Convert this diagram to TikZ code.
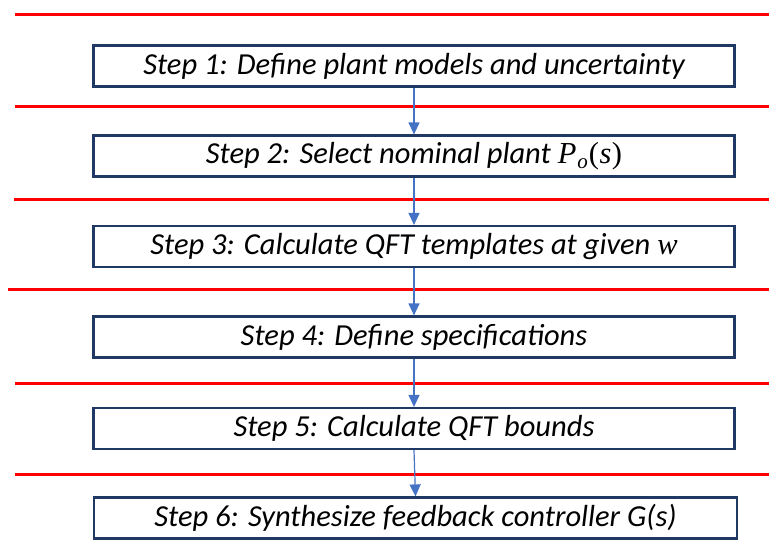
\documentclass[tikz,border=0pt]{standalone}
\usepackage{fontspec}
\setmainfont{Carlito}
\newfontfamily\mathlike{Liberation Serif}
\usetikzlibrary{arrows.meta}
\definecolor{boxnavy}{HTML}{1F3864}
\definecolor{flowblue}{HTML}{4472C4}
\definecolor{sepred}{HTML}{FF0000}
% math-style symbols set in a serif face
\newcommand{\plantPo}{{\mathlike\itshape P\kern1pt\raisebox{-0.35ex}{\fontsize{21}{21}\selectfont o}\upshape\kern1pt(\kern0.5pt\itshape s\upshape\kern0.5pt)}}
\newcommand{\freqw}{{\mathlike\itshape w}}
\tikzset{
  stepbox/.style={draw=boxnavy, line width=2.2pt, fill=white,
    minimum width=641pt, minimum height=41pt, inner sep=0pt,
    font=\fontsize{30.5}{33}\selectfont\itshape},
  flow/.style={draw=flowblue, line width=1.2pt,
    -{Triangle[width=11pt,length=12pt,fill=flowblue]}},
  sepline/.style={draw=sepred, line width=3pt}
}
\begin{document}
\begin{tikzpicture}[x=1pt,y=-1pt]
  \useasboundingbox (0,0) rectangle (769,554);
  % red separators
  \draw[sepline] (15,14) -- (769,14);
  \draw[sepline] (15,106) -- (769,106);
  \draw[sepline] (14,199) -- (769,199);
  \draw[sepline] (8,289) -- (769,289);
  \draw[sepline] (15,383) -- (769,383);
  \draw[sepline] (15,474) -- (769,474);
  % steps
  \node[stepbox] (s1) at (414,66) {Step 1: Define plant models and uncertainty};
  \node[stepbox] (s2) at (414,156) {Step 2: Select nominal plant \plantPo};
  \node[stepbox] (s3) at (414,246.5) {Step 3: Calculate QFT templates at given \freqw};
  \node[stepbox] (s4) at (414,337) {Step 4: Define specifications};
  \node[stepbox] (s5) at (414,428.5) {Step 5: Calculate QFT bounds};
  \node[stepbox, minimum width=643pt] (s6) at (415.5,518) {Step 6: Synthesize feedback controller G(s)};
  % flow arrows
  \draw[flow] (s1.south) -- (s2.north);
  \draw[flow] (s2.south) -- (s3.north);
  \draw[flow] (s3.south) -- (s4.north);
  \draw[flow] (s4.south) -- (s5.north);
  \draw[flow] (s5.south) -- (s6.north);
\end{tikzpicture}
\end{document}
